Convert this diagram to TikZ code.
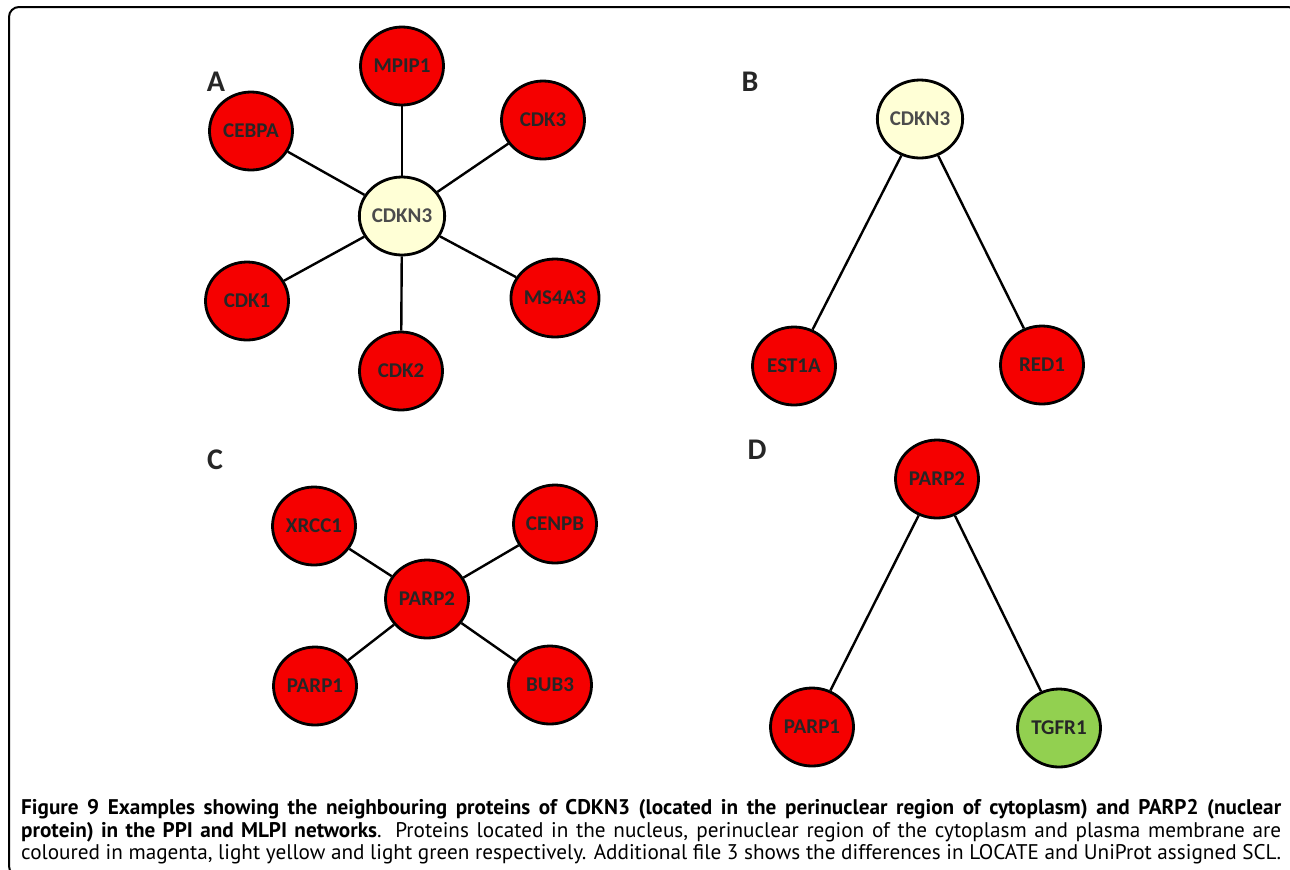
\documentclass[tikz,border=0pt]{standalone}
\usepackage{fontspec}
\setmainfont{PT Sans}
\newfontfamily\protfont{Carlito}
\usetikzlibrary{shapes.geometric}
\definecolor{nucred}{RGB}{245,0,0}
\definecolor{cytyellow}{RGB}{255,255,214}
\definecolor{memgreen}{RGB}{146,208,80}

\begin{document}
\begin{tikzpicture}[x=0.5pt, y=-0.5pt, line width=1.2pt,
		main/.style = {draw, ellipse, line width=1.4pt, minimum width=41.5pt, minimum height=39pt, inner sep=0pt, text=black!85, font=\protfont\bfseries\fontsize{10.5}{10.5}\selectfont},
		nuc/.style = {main, fill=nucred},
		cyt/.style = {main, fill=cytyellow, text=black!70},
		mem/.style = {main, fill=memgreen},
		panel/.style = {text=black!85, font=\protfont\bfseries\fontsize{15}{15}\selectfont}]

		\useasboundingbox (0,0) rectangle (1290,869);
		\clip (0,0) rectangle (1290,869);
		\draw[line width=1pt, rounded corners=5pt] (9,7) rectangle (1298,876);

		% A
		\node[panel] (LA) at (216,82) {A};
		\node[cyt] (A0) at (402,216) {CDKN3};
		\node[nuc] (A1) at (402,66) {MPIP1};
		\node[nuc] (A2) at (543,120) {CDK3};
		\node[nuc] (A3) at (555,298) {MS4A3};
		\node[nuc] (A4) at (401,371) {CDK2};
		\node[nuc] (A5) at (247,301) {CDK1};
		\node[nuc] (A6) at (251,131) {CEBPA};

		\draw (A0) to (A1);
		\draw (A0) to (A2);
		\draw (A0) to (A3);
		\draw (A0) to (A4);
		\draw (A0) to (A5);
		\draw (A0) to (A6);

		% B
		\node[panel] (LB) at (750,82) {B};
		\node[cyt] (B0) at (920,119) {CDKN3};
		\node[nuc] (B1) at (794,366) {EST1A};
		\node[nuc] (B2) at (1042,365) {RED1};

		\draw (B0) to (B1);
		\draw (B0) to (B2);

		% C
		\node[panel] (LC) at (215,460) {C};
		\node[nuc] (C0) at (427,599) {PARP2};
		\node[nuc] (C1) at (314,526) {XRCC1};
		\node[nuc] (C2) at (555,524) {CENPB};
		\node[nuc] (C3) at (550,685) {BUB3};
		\node[nuc] (C4) at (315,686) {PARP1};

		\draw (C0) to (C1);
		\draw (C0) to (C2);
		\draw (C0) to (C3);
		\draw (C0) to (C4);

		% D
		\node[panel] (LD) at (757,450) {D};
		\node[nuc] (D0) at (937,479) {PARP2};
		\node[nuc] (D1) at (812,727) {PARP1};
		\node[mem] (D2) at (1059,728) {TGFR1};

		\draw (D0) to (D1);
		\draw (D0) to (D2);

		% caption
		\node[anchor=north west, text width=630pt, align=justify, inner sep=0pt, font=\fontsize{10.6}{11.4}\selectfont] (cap) at (20,798) {\hyphenpenalty=10000\emergencystretch=20pt \textbf{Figure 9 Examples showing the neighbouring proteins of CDKN3 (located in the perinuclear region of cytoplasm) and PARP2 (nuclear\linebreak protein) in the PPI and MLPI networks}. Proteins located in the nucleus, perinuclear region of the cytoplasm and plasma membrane are\linebreak coloured in magenta, light yellow and light green respectively. Additional file 3 shows the differences in LOCATE and UniProt assigned SCL.};
	\end{tikzpicture}
\end{document}
